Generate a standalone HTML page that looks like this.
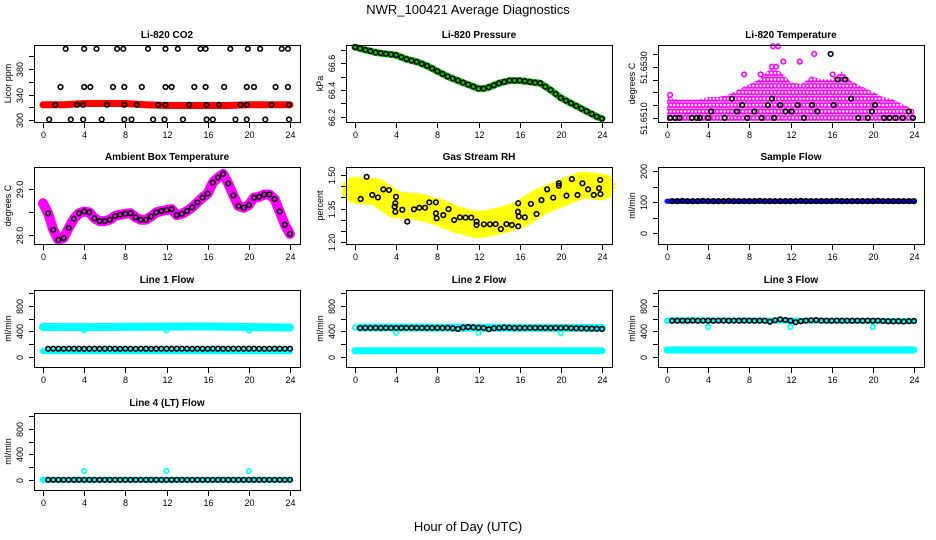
<!DOCTYPE html>
<html><head><meta charset="utf-8">
<style>
html,body{margin:0;padding:0;background:#fff;}
svg{display:block;font-family:"Liberation Sans",sans-serif;}
</style></head>
<body>
<svg id="chart" width="936" height="540" viewBox="0 0 936 540" xmlns="http://www.w3.org/2000/svg">
<defs>
<pattern id="patMag" patternUnits="userSpaceOnUse" width="3.6" height="6.4" x="0" y="0">
<circle cx="1.8" cy="3.2" r="2.1" fill="none" stroke="#ff00ff" stroke-width="1.8"/>
</pattern>
<pattern id="patYel" patternUnits="userSpaceOnUse" width="4" height="4">
<circle cx="2" cy="2" r="1.8" fill="none" stroke="#ffff00" stroke-width="1.8"/>
</pattern>
</defs>
<text x="468" y="14" font-size="13" text-anchor="middle">NWR_100421  Average Diagnostics</text>
<text x="468" y="531" font-size="13" text-anchor="middle">Hour of Day (UTC)</text>
</svg>
<script>
// ---- data ----
const H49 = [0,0.5,1,1.5,2,2.5,3,3.5,4,4.5,5,5.5,6,6.5,7,7.5,8,8.5,9,9.5,10,10.5,11,11.5,12,12.5,13,13.5,14,14.5,15,15.5,16,16.5,17,17.5,18,18.5,19,19.5,20,20.5,21,21.5,22,22.5,23,23.5,24];
const H48 = [0.5,1,1.5,2,2.5,3,3.5,4,4.5,5,5.5,6,6.5,7,7.5,8,8.5,9,9.5,10,10.5,11,11.5,12,12.5,13,13.5,14,14.5,15,15.5,16,16.5,17,17.5,18,18.5,19,19.5,20,20.5,21,21.5,22,22.5,23,23.5,24];
const xTicks = [0,4,8,12,16,20,24];

// CO2
const co2BandH = [0,2,4,6,8,10,12,14,16,18,20,22,24];
const co2BandV = [324,324,326,326,326,324,323,323,323,323,324,324,324];
const co2TopH = [2.2,4.0,5.2,7.2,7.8,10.2,11.9,13.1,15.3,15.8,18.2,19.9,21.1,23.2,23.8];
const co2MidH = [1.7,4.0,4.6,6.8,7.9,9.6,11.9,12.5,14.7,15.8,17.6,19.8,20.5,22.6,23.8];
const co2LowH = [0.6,2.7,3.9,5.7,7.9,8.6,10.7,11.8,13.6,15.9,16.5,18.7,19.8,21.6,23.9];
const co2AvgH = [1.2,3.3,3.9,6.2,7.9,9.1,11.2,11.9,14.2,15.9,17.1,19.2,19.8,22.2,23.9];
const co2TopV = 412, co2MidV = 352, co2LowV = 301, co2AvgV = 324;

// Pressure
const presV = [66.72,66.71,66.70,66.69,66.68,66.675,66.67,66.665,66.66,66.645,66.63,66.62,66.61,66.595,66.58,66.56,66.54,66.52,66.50,66.485,66.47,66.455,66.44,66.425,66.41,66.41,66.42,66.435,66.45,66.46,66.47,66.47,66.47,66.465,66.46,66.455,66.45,66.425,66.40,66.37,66.34,66.32,66.30,66.28,66.26,66.24,66.22,66.20,66.185];

// Li-820 temperature
const tempEnvH = [0,1,2,3,4,5,6,7,8,9,10,11,12,13,14,15,16,17,18,19,20,21,22,23,24];
const tempEnvV = [51.6517,51.6516,51.6516,51.6516,51.6517,51.6517,51.6518,51.6520,51.6522,51.6524,51.6528,51.6527,51.6523,51.6522,51.6525,51.6524,51.6524,51.6527,51.6523,51.6521,51.6519,51.6517,51.6516,51.6514,51.6512];
const tempHiH = [0.3,7.5,9.1,10.3,10.8,11.3,12.9,14.3,16.1,10.2,10.6];
const tempHiV = [51.6519,51.6527,51.6527,51.6538,51.6538,51.6532,51.6532,51.6535,51.6527,51.6530,51.6530];
const tempBlackH = [0.3,0.8,1.2,2.4,2.9,3.2,4,4.3,5.6,6.3,6.8,7.3,7.8,8.5,9.2,9.8,10.2,10.4,11,11.5,12.1,12.7,13.3,14.1,14.6,15.9,16.2,16.6,17.3,17.9,18.6,19.5,19.9,20.2,21.1,21.6,22.2,22.9,23.5,23.9];
const tempBlackV = [51.6510,51.6510,51.6510,51.6510,51.6510,51.6510,51.6510,51.65125,51.6510,51.65175,51.65125,51.6515,51.6510,51.65125,51.6510,51.6515,51.65175,51.6510,51.6515,51.65125,51.65125,51.6515,51.6510,51.6515,51.65125,51.6535,51.6515,51.6525,51.6525,51.65175,51.6510,51.6510,51.65125,51.6515,51.6510,51.6510,51.6510,51.6510,51.65125,51.6510];

// Ambient box temperature
const ambV = [28.69,28.47,28.11,27.89,27.93,28.15,28.35,28.47,28.51,28.49,28.36,28.30,28.30,28.33,28.41,28.44,28.46,28.47,28.38,28.33,28.33,28.40,28.49,28.52,28.54,28.56,28.43,28.46,28.52,28.60,28.71,28.81,28.90,29.14,29.25,29.33,29.12,28.86,28.63,28.59,28.65,28.81,28.83,28.88,28.88,28.78,28.51,28.22,28.02];

// Gas stream RH
const rhBandH = [0,2,4,6,8,10,12,14,16,18,20,22,24];
const rhBandV = [1.433,1.426,1.366,1.360,1.336,1.299,1.277,1.295,1.322,1.381,1.418,1.455,1.448];
const rhBlackH = [0.55,1.13,1.68,2.23,2.75,3.30,3.98,3.92,3.85,3.92,4.60,5.08,5.73,6.25,6.80,7.22,7.86,7.86,7.93,8.58,9.09,9.64,10.19,10.74,11.29,11.81,11.81,12.52,13.11,13.66,14.17,14.72,15.24,15.86,15.83,15.92,15.86,16.50,17.09,17.64,18.12,18.67,19.26,19.81,19.81,20.55,21.07,21.62,22.10,22.65,23.2,23.72,23.82,23.85];
const rhBlackV = [1.393,1.492,1.411,1.400,1.436,1.433,1.403,1.374,1.359,1.336,1.345,1.292,1.347,1.354,1.354,1.378,1.378,1.329,1.307,1.321,1.348,1.299,1.311,1.310,1.310,1.292,1.277,1.280,1.280,1.281,1.259,1.281,1.277,1.271,1.336,1.315,1.374,1.311,1.371,1.326,1.388,1.436,1.399,1.463,1.452,1.408,1.482,1.411,1.463,1.436,1.411,1.441,1.478,1.415];

// Sample flow
const sampleV = [103,103,104,103,103,103,104,103,103,103,103,104,103,103,103,103,103,104,103,103,103,103,103,103,103,104,103,103,103,103,103,103,104,103,103,103,103,103,103,103,104,103,103,103,103,103,103,103];

// Line flows
const line1Black = [128,130,129,128,130,130,129,128,129,130,128,129,130,129,128,130,129,128,130,129,128,129,130,129,128,129,130,129,128,130,129,128,130,129,128,129,130,129,128,129,130,129,128,129,130,129,128,130];
const line1UpH = [0,4,8,12,16,20,24];
const line1UpV = [470,468,472,476,478,470,462];
const line1LowV = [92,92,92,92,92,90,90];
const line1OutH = [4,12,20];
const line1OutV = [420,420,415];

const line2Black = [455,456,455,457,455,456,455,455,456,455,457,456,455,456,455,456,455,457,450,440,462,470,465,458,455,435,450,455,462,458,455,456,455,457,456,455,456,455,456,455,457,452,450,448,447,445,443,440];
const line2LowV = [98,98,98,98,98,98,98];
const line2OutH = [0,4,12,20];
const line2OutV = [460,378,378,372];

const line3Black = [568,568,569,568,570,568,569,568,568,569,570,568,569,568,570,569,568,569,568,552,575,590,580,568,545,560,570,575,578,570,569,568,570,568,569,568,569,568,570,568,569,565,560,558,560,555,560,565];
const line3LowV = [110,110,110,110,110,110,110];
const line3OutH = [0,0.2,4,12,20];
const line3OutV = [565,575,470,470,470];

const line4Black = [3,3,3,3,3,3,3,3,3,3,3,3,3,3,3,3,3,3,3,3,3,3,3,3,3,3,3,3,3,3,3,3,3,3,3,3,3,3,3,3,3,3,3,3,3,3,3,3];
const line4LowV = [2,2,2,2,2,2,2];
const line4OutH = [0,0.15,4,12,20];
const line4OutV = [5,5,140,140,140];

// ---- drawing ----
const NS = 'http://www.w3.org/2000/svg';
const svg = document.getElementById('chart');
const colL = [34, 346, 658], rowT = [45, 167, 290, 413];
const PW = 266, PH = 77;
function mk(tag, parent) { const e = document.createElementNS(NS, tag); parent.appendChild(e); return e; }
function set(e, o) { for (const k in o) e.setAttribute(k, o[k]); return e; }

function makePanel(col, row, title, ylab, dom, ticks, labels, name) {
  const L = colL[col], T = rowT[row], B = T + PH;
  const g = mk('g', svg);
  
  
  const xs = h => L + 9 + h / 24 * 247;
  const ys = v => B - (v - dom[0]) / (dom[1] - dom[0]) * PH;
  const plot = mk('g', g);
  
  
  const frame = mk('g', g);
  const box = set(mk('rect', frame), {x: L + .5, y: T + .5, width: PW, height: PH, fill: 'none', stroke: '#000', 'stroke-width': 1});
  
  
  const t = set(mk('text', g), {x: L + PW / 2, y: T - 7, 'font-size': 10, 'font-weight': 'bold', 'text-anchor': 'middle'});
  t.textContent = title;
  
  
  const yl = set(mk('text', g), {x: L - 23, y: T + PH / 2, 'font-size': 9, 'text-anchor': 'middle', transform: `rotate(-90 ${L - 23} ${T + PH / 2})`});
  yl.textContent = ylab;
  
  
  xTicks.forEach(h => {
    const x = Math.round(xs(h)) + .5;
    const tk = set(mk('line', g), {x1: x, x2: x, y1: B + 1, y2: B + 6, stroke: '#000'});
    
    
    const lb = set(mk('text', g), {x: x, y: B + 16, 'font-size': 9, 'text-anchor': 'middle'});
    lb.textContent = h;
    
    
  });
  ticks.forEach((v, i) => {
    const y = Math.round(ys(v)) + .5;
    const tk = set(mk('line', g), {x1: L - 5, x2: L, y1: y, y2: y, stroke: '#000'});
    
    
    if (labels[i]) {
      const lb = set(mk('text', g), {x: L - 11, y: y, 'font-size': 9, 'text-anchor': 'middle', transform: `rotate(-90 ${L - 11} ${y})`});
      lb.textContent = labels[i];
      
      
    }
  });
  return {xs, ys, g: plot};
}
function ring(p, h, v, color, nm) {
  const c = set(mk('circle', p.g), {cx: p.xs(h), cy: p.ys(v), r: 2.3, fill: 'none', stroke: color, 'stroke-width': 1.6});
  
  
}
function band(p, hs, vs, color, w, nm) {
  const d = hs.map((h, i) => (i ? 'L' : 'M') + p.xs(h).toFixed(1) + ' ' + p.ys(vs[i]).toFixed(1)).join(' ');
  const e = set(mk('path', p.g), {d: d, fill: 'none', stroke: color, 'stroke-width': w, 'stroke-linecap': 'round', 'stroke-linejoin': 'round'});
  
  
}

// CO2
const pC = makePanel(0, 0, 'Li-820 CO2', 'Licor ppm', [297, 418], [300, 320, 340, 360, 380, 400], ['300', '', '340', '', '380', '']);
band(pC, co2BandH, co2BandV, '#ff0000', 7, 'co2-band');
co2TopH.forEach(h => ring(pC, h, co2TopV, '#000', 'co2-point'));
co2MidH.forEach(h => ring(pC, h, co2MidV, '#000', 'co2-point'));
co2LowH.forEach(h => ring(pC, h, co2LowV, '#000', 'co2-point'));
co2AvgH.forEach(h => ring(pC, h, co2AvgV, '#000', 'co2-point'));

// Pressure
const pP = makePanel(1, 0, 'Li-820 Pressure', 'kPa', [66.16, 66.736], [66.2, 66.3, 66.4, 66.5, 66.6, 66.7], ['66.2', '', '66.4', '', '66.6', '']);
band(pP, H49, presV, '#00cc00', 7, 'pressure-band');
H49.forEach((h, i) => ring(pP, h, presV[i], '#000', 'pressure-point'));

// Li-820 Temperature
const pT = makePanel(2, 0, 'Li-820 Temperature', 'degrees C', [51.65084, 51.65385], [51.6510, 51.6515, 51.6520, 51.6525, 51.6530, 51.6535], ['51.6510', '', '', '', '51.6530', '']);
(function () {
  const pat = document.getElementById('patMag');
  pat.setAttribute('y', (pT.ys(51.6510) - 3.2).toFixed(2));
  pat.setAttribute('height', (pT.ys(51.6510) - pT.ys(51.65125)).toFixed(2));
  pat.setAttribute('x', (pT.xs(0) - 1.8).toFixed(2));
  let d = 'M' + pT.xs(0) + ' ' + (pT.ys(51.6510) + 3.5);
  tempEnvH.forEach((h, i) => { d += ' L' + pT.xs(h).toFixed(1) + ' ' + (pT.ys(tempEnvV[i]) - 3).toFixed(1); });
  d += ' L' + pT.xs(24) + ' ' + (pT.ys(51.6510) + 3.5) + ' Z';
  const a = set(mk('path', pT.g), {d: d, fill: 'url(#patMag)', stroke: 'none'});
  
  
})();
tempHiH.forEach((h, i) => ring(pT, h, tempHiV[i], '#ff00ff', 'temperature-point'));
tempBlackH.forEach((h, i) => ring(pT, h, tempBlackV[i], '#000', 'temperature-mean-point'));

// Ambient
const pA = makePanel(0, 1, 'Ambient Box Temperature', 'degrees C', [27.80, 29.48], [28.0, 28.5, 29.0], ['28.0', '', '29.0']);
band(pA, H49, ambV, '#ff00ff', 10, 'ambient-band');
H48.forEach((h, i) => ring(pA, h, ambV[i + 1], '#000', 'ambient-point'));

// RH
const pR = makePanel(1, 1, 'Gas Stream RH', 'percent', [1.192, 1.536], [1.20, 1.25, 1.30, 1.35, 1.40, 1.45, 1.50], ['1.20', '', '', '1.35', '', '', '1.50']);
band(pR, rhBandH, rhBandV, '#ffff66', 24, 'rh-yellow-fill');
band(pR, rhBandH, rhBandV, 'url(#patYel)', 27, 'rh-yellow-cloud');
rhBlackH.forEach((h, i) => ring(pR, h, rhBlackV[i], '#000', 'rh-point'));

// Sample flow
const pS = makePanel(2, 1, 'Sample Flow', 'ml/min', [-35, 213], [0, 50, 100, 150, 200], ['0', '', '100', '', '200']);
band(pS, [0, 24], [103, 103], '#0000ff', 5, 'sample-flow-band');
H48.forEach((h, i) => ring(pS, h, sampleV[i], '#000', 'sample-flow-point'));

const flowTicks = [0, 200, 400, 600, 800, 1000], flowLabels = ['0', '', '400', '', '800', ''];
// Line 1
const p1 = makePanel(0, 2, 'Line 1 Flow', 'ml/min', [-157, 1050], flowTicks, flowLabels);
band(p1, line1UpH, line1UpV, '#00ffff', 8, 'line1-upper-band');
band(p1, line1UpH, line1LowV, '#00ffff', 6, 'line1-lower-band');
line1OutH.forEach((h, i) => ring(p1, h, line1OutV[i], '#00ffff', 'line1-outlier'));
H48.forEach((h, i) => ring(p1, h, line1Black[i], '#000', 'line1-point'));
// Line 2
const p2 = makePanel(1, 2, 'Line 2 Flow', 'ml/min', [-157, 1050], flowTicks, flowLabels);
band(p2, line1UpH, line2LowV, '#00ffff', 7, 'line2-lower-band');
band(p2, [0.5, 24], [462, 455], '#00ffff', 8, 'line2-upper-band');
line2OutH.forEach((h, i) => ring(p2, h, line2OutV[i], '#00ffff', 'line2-outlier'));
H48.forEach((h, i) => ring(p2, h, line2Black[i], '#000', 'line2-point'));
// Line 3
const p3 = makePanel(2, 2, 'Line 3 Flow', 'ml/min', [-157, 1050], flowTicks, flowLabels);
band(p3, line1UpH, line3LowV, '#00ffff', 7, 'line3-lower-band');
band(p3, [0.5, 24], [575, 565], '#00ffff', 6, 'line3-upper-band');
line3OutH.forEach((h, i) => ring(p3, h, line3OutV[i], '#00ffff', 'line3-outlier'));
H48.forEach((h, i) => ring(p3, h, line3Black[i], '#000', 'line3-point'));
// Line 4
const p4 = makePanel(0, 3, 'Line 4 (LT) Flow', 'ml/min', [-157, 1050], flowTicks, flowLabels);
band(p4, line1UpH, line4LowV, '#00ffff', 6, 'line4-band');
line4OutH.forEach((h, i) => ring(p4, h, line4OutV[i], '#00ffff', 'line4-outlier'));
H48.forEach((h, i) => ring(p4, h, line4Black[i], '#000', 'line4-point'));
</script>
</body></html>
